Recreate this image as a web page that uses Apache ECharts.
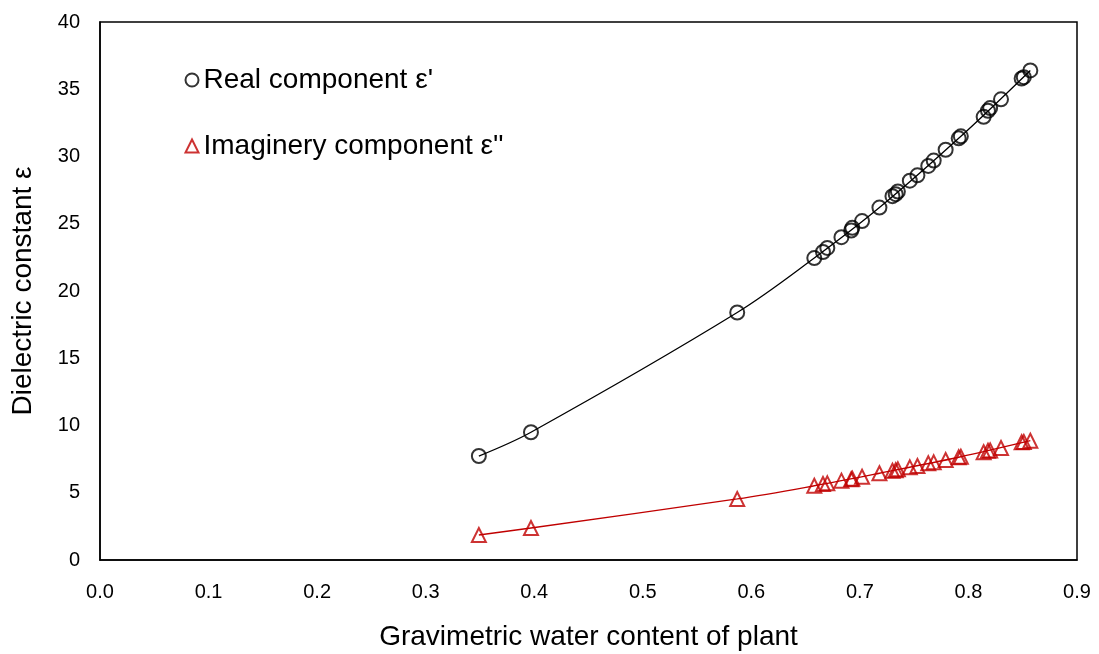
<!DOCTYPE html>
<html>
<head>
<meta charset="utf-8">
<script src="https://cdn.jsdelivr.net/npm/echarts@6/dist/echarts.min.js"></script>
<style>
html, body { margin: 0; padding: 0; background: #fff; }
#chart_container { width: 1099px; height: 654px; }
</style>
</head>
<body>
<div id="chart_container"></div>
<script>
// gravimetric water content (shared by both series)
const waterContent = [0.349, 0.397, 0.587, 0.658, 0.666, 0.670, 0.683, 0.692, 0.693, 0.702,
	0.718, 0.730, 0.733, 0.735, 0.746, 0.753, 0.763, 0.768, 0.779, 0.791,
	0.793, 0.814, 0.818, 0.820, 0.830, 0.849, 0.851, 0.857]
const realPart = [7.73, 9.5, 18.4, 22.45, 22.9, 23.2, 24.0, 24.5, 24.7, 25.2,
	26.2, 27.05, 27.2, 27.4, 28.2, 28.6, 29.3, 29.7, 30.5, 31.35,
	31.5, 32.95, 33.4, 33.6, 34.25, 35.8, 35.9, 36.4]
const imagPart = [1.86, 2.38, 4.54, 5.52, 5.65, 5.70, 5.90, 6.0, 6.05, 6.19,
	6.45, 6.64, 6.68, 6.74, 6.89, 6.99, 7.19, 7.26, 7.43, 7.64,
	7.68, 8.01, 8.13, 8.15, 8.33, 8.75, 8.78, 8.87]
// points the trend curve is drawn through (indices into the arrays above)
const trendIdx = [0, 1, 2, 3, 10, 19, 27]
const xTicks = [0, 0.1, 0.2, 0.3, 0.4, 0.5, 0.6, 0.7, 0.8, 0.9]

const FONT = "Liberation Sans"
const pair = ys => waterContent.map((x, i) => [x, ys[i]])
const trend = ys => trendIdx.map(i => [waterContent[i], ys[i]])

const trendLine = (data, color) => ({
	type: "line",
	data,
	smooth: 0.35,
	symbol: "none",
	silent: true,
	lineStyle: { color, width: 1.3 },
	z: 1,
})

const markers = (name, data, symbol, color) => ({
	name,
	type: "scatter",
	data,
	symbol,
	symbolSize: 14,
	itemStyle: { color: "none", borderColor: color, borderWidth: 2 },
	z: 2,
})

const chart = echarts.init(document.querySelector("#chart_container"))
chart.setOption({
	animation: false,
	textStyle: { fontFamily: FONT },
	grid: {
		left: 100,
		right: 22,
		top: 22,
		bottom: 94,
		outerBoundsMode: "none",
		show: true,
		borderColor: "#000",
		borderWidth: 1.5,
	},
	legend: {
		orient: "vertical",
		left: 178,
		top: 61,
		itemGap: 38,
		itemWidth: 13,
		itemHeight: 13,
		data: ["Real component ε'", "Imaginery component ε''"],
		textStyle: { fontSize: 28, color: "#000", fontFamily: FONT },
	},
	xAxis: {
		type: "value",
		min: 0,
		max: 0.9,
		interval: 0.1,
		name: "Gravimetric water content of plant",
		nameLocation: "middle",
		nameGap: 63,
		nameTextStyle: { fontSize: 28, color: "#000" },
		axisLine: { show: true, lineStyle: { color: "#000", width: 1.5 } },
		axisTick: { show: false },
		splitLine: { show: false },
		axisLabel: {
			fontSize: 20,
			color: "#000",
			margin: 22,
			formatter: v => xTicks.includes(Math.round(v * 10) / 10) ? v.toFixed(1) : "",
		},
	},
	yAxis: {
		type: "value",
		min: 0,
		max: 40,
		interval: 5,
		name: "Dielectric constant ε",
		nameLocation: "middle",
		nameGap: 63,
		nameTextStyle: { fontSize: 28, color: "#000" },
		axisLine: { show: true, lineStyle: { color: "#000", width: 1.5 } },
		axisTick: { show: false },
		splitLine: { show: false },
		axisLabel: { fontSize: 20, color: "#000", margin: 20 },
	},
	series: [
		trendLine(trend(realPart), "#000"),
		trendLine(trend(imagPart), "#c00000"),
		markers("Real component ε'", pair(realPart), "circle", "#000"),
		markers("Imaginery component ε''", pair(imagPart), "triangle", "#c00000"),
	],
})
</script>
</body>
</html>
